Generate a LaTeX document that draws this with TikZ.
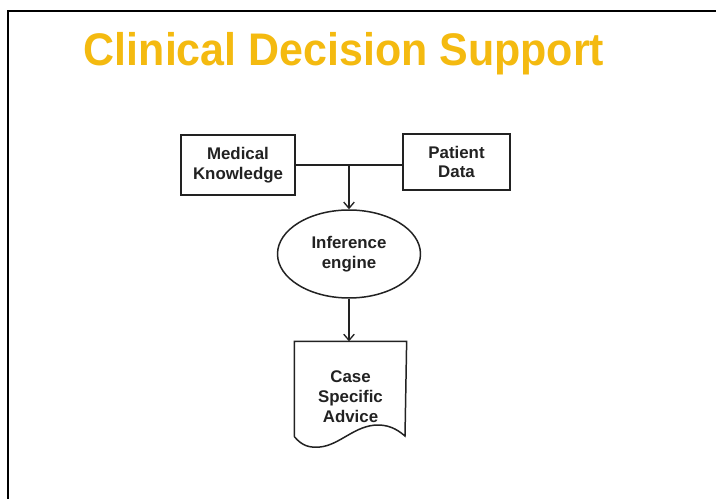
\documentclass[tikz,border=0pt]{standalone}
\usepackage{fontspec}
\setmainfont{Liberation Sans}
\usetikzlibrary{shapes.geometric,arrows.meta}

\definecolor{cdsgold}{RGB}{244,186,16}
\definecolor{ink}{RGB}{34,34,34}

\begin{document}
\begin{tikzpicture}[x=0.02cm,y=-0.02cm,>={Straight Barb[length=3.5pt,width=6pt]},->,draw=ink,line width=0.75pt]
    \tikzstyle{label}=[text=ink,align=center,font=\bfseries\fontsize{9.6}{11.3}\selectfont]
    \tikzstyle{box}=[label,draw=ink,rectangle,inner sep=0pt,line width=0.85pt]
    \tikzstyle{engine}=[box,ellipse]
    \tikzstyle{doc}=[rectangle,inner sep=0pt,minimum width=2.22cm,minimum height=1.88cm]

    \useasboundingbox (0,0) rectangle (716,499);
    \fill[white] (0,0) rectangle (716,499);

    % Slide frame and title
    \draw[-,black,line width=0.9pt] (8,499) -- (8,11) -- (716,11);
    \node[text=cdsgold,font=\bfseries\fontsize{26}{30}\selectfont,xscale=0.94] (title) at (344,54) {Clinical Decision Support};

    % Knowledge and data sources
    \node[box,minimum width=2.28cm,minimum height=1.2cm] (K) at (238,165) {Medical\\Knowledge};
    \node[box,minimum width=2.14cm,minimum height=1.12cm] (P) at (456.5,162) {Patient\\Data};

    % Inference engine and the advice document
    \node[engine,minimum width=2.86cm,minimum height=1.76cm] (E) at (349,254) {Inference\\engine};
    \node[doc] (A) at (350.5,389) {};
    \node[label] (advice) at ([yshift=-0.16cm]A.center) {Case\\Specific\\Advice};
    \draw[-,line width=0.85pt] (A.south west) -- (A.north west) -- (A.north east) -- (405,436)
        .. controls (400,432) and (392,425) .. (378,425)
        .. controls (355,425) and (340,445) .. (320,447)
        .. controls (310,448) and (302,446) .. (A.south west);

    % Connections
    \draw[-] (K.east) -- (K.east -| P.west);
    \coordinate (J) at (K.east -| E.north);
    \path (J) edge (E.north);
    \path (E.south) edge (E.south |- A.north);
\end{tikzpicture}
\end{document}
